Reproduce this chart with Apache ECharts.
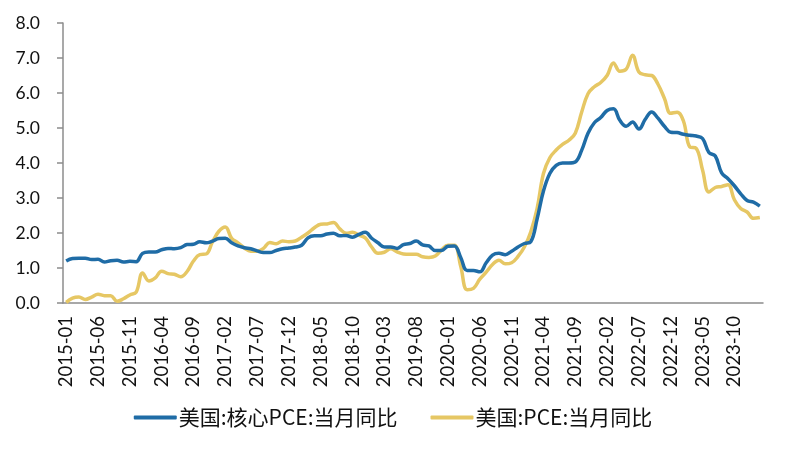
<!DOCTYPE html>
<html>
<head>
<meta charset="utf-8">
<script src="https://cdn.jsdelivr.net/npm/echarts@6/dist/echarts.min.js"></script>
<style>
html,body{margin:0;padding:0;background:#fff;}
#chart{width:786px;height:450px;}
</style>
</head>
<body>
<div id="chart"></div>
<script>
// Categories: monthly, 2015-01 .. 2024-02
var startYear = 2015, startMonth = 1, monthCount = 110;
var categories = [];
for (var k = 0; k < monthCount; k++) {
  var m = startMonth - 1 + k;
  var y = startYear + Math.floor(m / 12);
  var mm = (m % 12) + 1;
  categories.push(y + '-' + (mm < 10 ? '0' + mm : '' + mm));
}

var seriesNames = ['美国:核心PCE:当月同比', '美国:PCE:当月同比'];

var corePCE = [
  1.20, 1.27, 1.28, 1.28, 1.24, 1.25, 1.17, 1.21, 1.22, 1.17, 1.19, 1.18,
  1.42, 1.46, 1.46, 1.52, 1.56, 1.55, 1.58, 1.67, 1.68, 1.75, 1.72, 1.77,
  1.84, 1.85, 1.72, 1.63, 1.58, 1.55, 1.49, 1.44, 1.44, 1.50, 1.55, 1.57,
  1.60, 1.65, 1.86, 1.92, 1.92, 1.97, 1.99, 1.92, 1.93, 1.88, 1.96, 2.02,
  1.85, 1.72, 1.60, 1.60, 1.56, 1.67, 1.70, 1.77, 1.66, 1.63, 1.50, 1.50,
  1.62, 1.63, 1.30, 0.93, 0.93, 0.89, 1.15, 1.37, 1.42, 1.38, 1.48, 1.60,
  1.70, 1.75, 2.40, 3.20, 3.70, 3.93, 4.00, 4.00, 4.03, 4.36, 4.85, 5.15,
  5.30, 5.50, 5.55, 5.22, 5.05, 5.17, 4.97, 5.25, 5.46, 5.28, 5.05, 4.88,
  4.87, 4.82, 4.79, 4.77, 4.70, 4.30, 4.20, 3.72, 3.55, 3.35, 3.12, 2.93,
  2.88, 2.77
];

var headlinePCE = [
  0.02, 0.14, 0.17, 0.10, 0.17, 0.25, 0.21, 0.21, 0.05, 0.12, 0.23, 0.31,
  0.86, 0.63, 0.72, 0.91, 0.84, 0.82, 0.75, 0.90, 1.20, 1.38, 1.40, 1.75,
  2.05, 2.17, 1.85, 1.72, 1.57, 1.48, 1.48, 1.56, 1.73, 1.69, 1.77, 1.75,
  1.77, 1.88, 2.00, 2.15, 2.25, 2.26, 2.30, 2.12, 1.99, 2.02, 1.94, 1.86,
  1.60, 1.42, 1.45, 1.55, 1.46, 1.40, 1.39, 1.39, 1.32, 1.30, 1.34, 1.52,
  1.65, 1.65, 1.05, 0.38, 0.42, 0.68, 0.88, 1.10, 1.22, 1.12, 1.15, 1.33,
  1.60, 2.03, 2.70, 3.70, 4.15, 4.37, 4.53, 4.65, 4.85, 5.45, 5.98, 6.18,
  6.30, 6.50, 6.86, 6.62, 6.68, 7.08, 6.60, 6.52, 6.50, 6.25, 5.85, 5.42,
  5.45, 5.20, 4.46, 4.42, 3.80, 3.17, 3.30, 3.33, 3.38, 2.95, 2.70, 2.60,
  2.42, 2.44
];

var yMin = 0, yMax = 8, yInterval = 1;

var axisGrey = '#8c8c8c';
var colors = ['#1f6ca6', '#e6c764'];

var chart = echarts.init(document.getElementById('chart'), null, {renderer: 'canvas'});
chart.setOption({
  animation: false,
  backgroundColor: '#ffffff',
  color: colors,
  grid: {left: 63, right: 23, top: 23, bottom: 147},
  legend: {
    bottom: 17,
    left: 'center',
    itemWidth: 43,
    itemHeight: 4,
    itemGap: 33,
    icon: 'roundRect',
    textStyle: {fontFamily: 'Noto Sans CJK SC', fontSize: 21, color: '#111', padding: [0, 0, 0, -3]},
    data: seriesNames
  },
  xAxis: {
    type: 'category',
    data: categories,
    boundaryGap: true,
    axisLine: {lineStyle: {color: axisGrey, width: 1.5}},
    axisTick: {interval: 4, length: 5, lineStyle: {color: axisGrey, width: 1.5}},
    axisLabel: {interval: 4, rotate: 90, margin: 13, fontFamily: 'Lato', fontSize: 18.5, color: '#111'},
    splitLine: {show: false}
  },
  yAxis: {
    type: 'value',
    min: yMin, max: yMax, interval: yInterval,
    axisLine: {show: true, lineStyle: {color: axisGrey, width: 1.5}},
    axisTick: {show: true, length: 6, lineStyle: {color: axisGrey, width: 1.5}},
    axisLabel: {margin: 23, fontFamily: 'Lato', fontSize: 17.5, color: '#111',
      formatter: function (v) { return v.toFixed(1); }},
    splitLine: {show: false}
  },
  series: [
    {name: seriesNames[0], type: 'line', data: corePCE, smooth: 0.4, showSymbol: false,
     lineStyle: {width: 3.5, color: colors[0]}, z: 2},
    {name: seriesNames[1], type: 'line', data: headlinePCE, smooth: 0.4, showSymbol: false,
     lineStyle: {width: 3.5, color: colors[1]}, z: 1}
  ]
});
</script>
</body>
</html>
